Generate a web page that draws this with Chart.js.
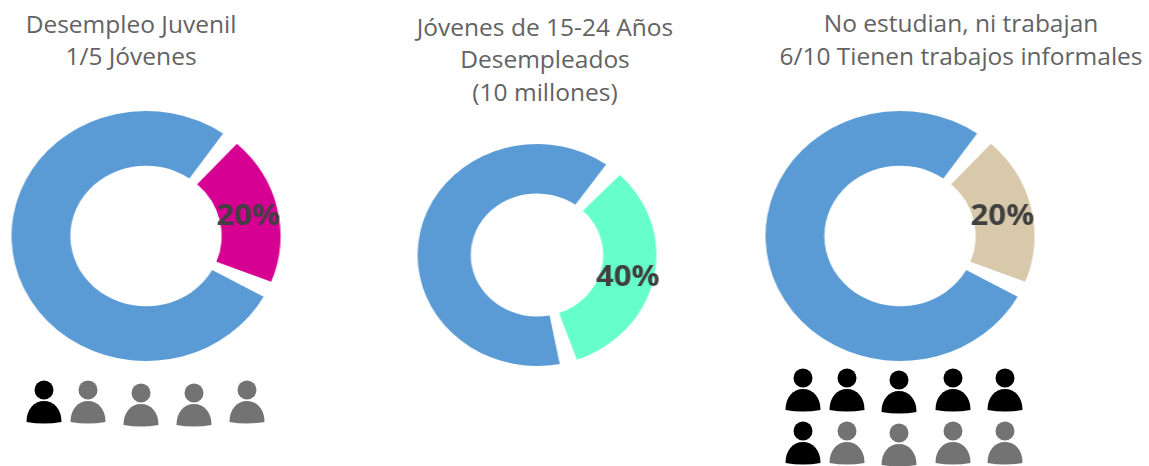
<!DOCTYPE html>
<html>
<head>
<meta charset="utf-8">
<script src="https://cdn.jsdelivr.net/npm/chart.js@4"></script>
<style>
  html, body { margin: 0; padding: 0; background: #fff; }
  #page { position: relative; width: 1149px; height: 466px; overflow: hidden; font-family: 'Open Sans', sans-serif; color: #636363; }
  canvas { position: absolute; transform: scaleX(1.076); }
  .line { position: absolute; white-space: nowrap; transform: translate(-50%, -50%); font-size: 24.5px; }
  svg.person { position: absolute; overflow: visible; }
</style>
</head>
<body>
<div id="page"></div>
<script>
// values (slices are drawn smaller than the 40% label says)
const sliceLabels = ['Destacado', 'Resto'];
const juvenilValues = [20, 80];
const jovenesValues = [34, 66];
const ninisValues = [20, 80];
const percentLabels = ['20%', '40%', '20%'];

const sliceColors = ['#d60093', '#66ffcc', '#d8c9ab'];
const blue = '#5b9bd5';

const titleLines = [
  ['Desempleo Juvenil', 131, 23],
  ['1/5 Jóvenes', 131, 55],
  ['Jóvenes de 15-24 Años', 545, 26],
  ['Desempleados', 545, 58],
  ['(10 millones)', 545, 91],
  ['No estudian, ni trabajan', 961, 22],
  ['6/10 Tienen trabajos informales', 961, 55]
];

const page = document.getElementById('page');

titleLines.forEach(function(t) {
  const el = document.createElement('div');
  el.className = 'line';
  el.textContent = t[0];
  el.style.left = t[1] + 'px';
  el.style.top = t[2] + 'px';
  page.appendChild(el);
});

// writes the percentage on top of the coloured slice
const percentPlugin = {
  id: 'percentPlugin',
  afterDatasetsDraw: function(chart, args, opts) {
    const arc = chart.getDatasetMeta(0).data[0];
    const p = arc.getCenterPoint();
    const ctx = chart.ctx;
    ctx.save();
    ctx.font = "bold 29px 'Open Sans', sans-serif";
    ctx.fillStyle = '#404040';
    ctx.textAlign = 'center';
    ctx.textBaseline = 'middle';
    ctx.fillText(opts.text, p.x, p.y + opts.dy);
    ctx.restore();
  }
};

// the original is an image stretched sideways, hence the scaleX on the canvas
function donut(cx, cy, r, values, color, rotation, cutout, text, dy) {
  const canvas = document.createElement('canvas');
  const size = Math.round(r * 2 + 24);
  canvas.width = size;
  canvas.height = size;
  canvas.style.left = (cx - size / 2) + 'px';
  canvas.style.top = (cy - size / 2) + 'px';
  page.appendChild(canvas);

  new Chart(canvas.getContext('2d'), {
    type: 'doughnut',
    data: {
      labels: sliceLabels,
      datasets: [{
        data: values,
        backgroundColor: [color, blue],
        borderWidth: 0,
        spacing: 8
      }]
    },
    options: {
      responsive: false,
      animation: false,
      cutout: cutout,
      radius: r,
      rotation: rotation,
      plugins: {
        legend: { display: false },
        tooltip: { enabled: false },
        percentPlugin: { text: text, dy: dy }
      }
    },
    plugins: [percentPlugin]
  });
}

donut(146, 235.5, 121, juvenilValues, sliceColors[0], 41, '54.8%', percentLabels[0], 3);
donut(536.5, 254.5, 107, jovenesValues, sliceColors[1], 41, '53.8%', percentLabels[1], 5);
donut(900, 235.5, 121, ninisValues, sliceColors[2], 41, '54.8%', percentLabels[2], 3);

// little people under the charts: x, y of the head, colour
const black = '#000000';
const grey = '#737373';
const personX = [44, 88, 141, 194, 247];
const personY = [390, 390, 393, 393, 390];
const personColors = [black, grey, grey, grey, grey];
const crowdX = [803, 847, 899, 953, 1005];
const crowdRow1Y = [378, 378, 380, 378, 378];
const crowdRow2Y = [431, 431, 433, 431, 431];
const crowdRow2Colors = [black, grey, grey, grey, grey];

function person(x, y, color) {
  const ns = 'http://www.w3.org/2000/svg';
  const svg = document.createElementNS(ns, 'svg');
  svg.setAttribute('class', 'person');
  svg.setAttribute('width', 36);
  svg.setAttribute('height', 46);
  svg.style.left = (x - 18) + 'px';
  svg.style.top = (y - 11) + 'px';
  const head = document.createElementNS(ns, 'circle');
  head.setAttribute('cx', 18);
  head.setAttribute('cy', 11);
  head.setAttribute('r', 9.5);
  head.setAttribute('fill', color);
  const body = document.createElementNS(ns, 'path');
  body.setAttribute('d', 'M0.5 43 C0.5 30 8 22 18 22 C28 22 35.5 30 35.5 43 Q18 46 0.5 43 Z');
  body.setAttribute('fill', color);
  svg.appendChild(head);
  svg.appendChild(body);
  page.appendChild(svg);
}

personX.forEach(function(x, i) { person(x, personY[i], personColors[i]); });
crowdX.forEach(function(x, i) { person(x, crowdRow1Y[i], black); });
crowdX.forEach(function(x, i) { person(x, crowdRow2Y[i], crowdRow2Colors[i]); });
</script>
</body>
</html>
